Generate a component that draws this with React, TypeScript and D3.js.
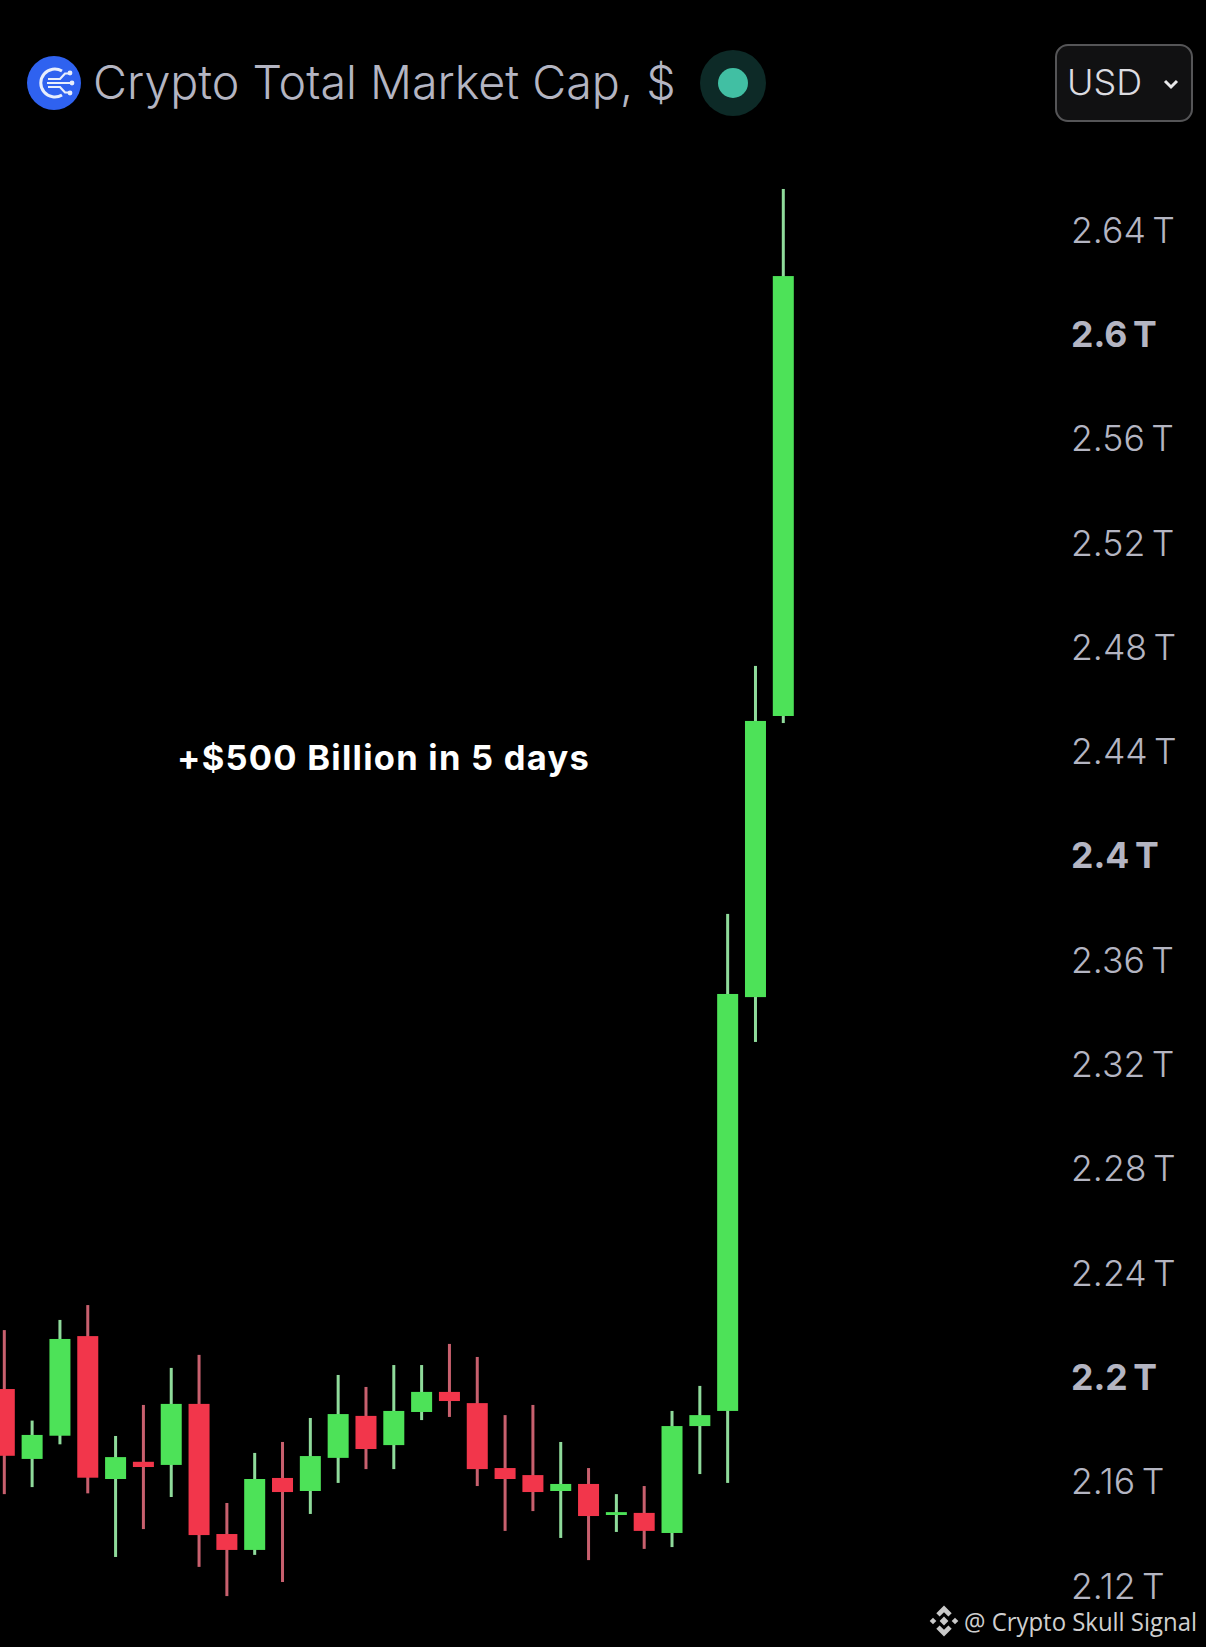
import { useEffect, useRef } from "react";
import * as d3 from "d3";

// candle values in trillions of USD, oldest first
const opens = [
  2.1958, 2.169, 2.1779, 2.2161, 2.1613, 2.1679, 2.1667, 2.1901, 2.1402, 2.1341,
  2.1617, 2.1567, 2.1694, 2.1855, 2.1743, 2.187, 2.1947, 2.1904, 2.1655, 2.1628,
  2.1567, 2.1594, 2.1475, 2.1483, 2.1406, 2.1816, 2.1874, 2.3461, 2.4539,
];
const highs = [
  2.2184, 2.1837, 2.2223, 2.228, 2.1778, 2.1897, 2.2039, 2.2089, 2.1521, 2.1713,
  2.1755, 2.1847, 2.2012, 2.1966, 2.205, 2.205, 2.2131, 2.2081, 2.1858, 2.1897,
  2.1755, 2.1655, 2.1555, 2.1586, 2.1874, 2.197, 2.378, 2.4731, 2.656,
];
const lows = [
  2.1555, 2.1582, 2.1746, 2.1558, 2.1314, 2.1421, 2.1544, 2.1276, 2.1164, 2.1322,
  2.1218, 2.1479, 2.1598, 2.1651, 2.1651, 2.1839, 2.1851, 2.1586, 2.1414, 2.149,
  2.1387, 2.1302, 2.141, 2.1345, 2.1352, 2.1632, 2.1598, 2.3289, 2.4512,
];
const closes = [
  2.1702, 2.1782, 2.215, 2.1618, 2.1697, 2.1659, 2.1901, 2.1398, 2.1341, 2.1613,
  2.1563, 2.1701, 2.1862, 2.1728, 2.1874, 2.1947, 2.1912, 2.1651, 2.1613, 2.1563,
  2.1594, 2.1471, 2.1486, 2.1414, 2.1816, 2.1858, 2.3473, 2.452, 2.6226,
];

const tickValues = [
  2.12, 2.16, 2.2, 2.24, 2.28, 2.32, 2.36, 2.4, 2.44, 2.48, 2.52, 2.56, 2.6, 2.64,
];
const boldTicks = [2.2, 2.4, 2.6];

const titleText = "Crypto Total Market Cap, $";
const noteText = "+$500 Billion in 5 days";
const creditText = "@ Crypto Skull Signal";

const App = () => {
  const chartRef = useRef<SVGSVGElement | null>(null);

  useEffect(() => {
    const width = 1206;
    const height = 1647;
    const bodyWidth = 21;
    const wickWidth = 3;

    const svg = d3.select(chartRef.current);
    svg.selectAll("*").remove();
    svg.attr("width", width).attr("height", height);

    svg.append("rect").attr("width", width).attr("height", height).attr("fill", "#000");

    const days = d3.range(opens.length);
    const x = d3.scalePoint<number>().domain(days).range([4.3, 783.3]);
    const y = d3.scaleLinear().domain([2.12, 2.64]).range([1586.7, 230.7]);

    // price axis on the right, labels left aligned
    const axis = d3
      .axisRight(y)
      .tickValues(tickValues)
      .tickSize(0)
      .tickPadding(0)
      .tickFormat((d) => `${d}\u2009T`);

    const axisG = svg.append("g").attr("transform", "translate(1071,0)").call(axis);
    axisG.select(".domain").remove();
    axisG
      .selectAll<SVGTextElement, number>("text")
      .attr("fill", "#b4b5c2")
      .style("font-family", "Inter")
      .style("font-size", "35.6px")
      .style("font-weight", (d) => (boldTicks.includes(d) ? 700 : 300));

    // wicks first, bodies on top
    const candles = svg.append("g");
    candles
      .selectAll("rect.wick")
      .data(days)
      .join("rect")
      .attr("class", "wick")
      .attr("x", (d) => x(d)! - wickWidth / 2)
      .attr("width", wickWidth)
      .attr("y", (d) => y(highs[d]))
      .attr("height", (d) => y(lows[d]) - y(highs[d]))
      .attr("fill", (d) => (closes[d] >= opens[d] ? "#8fdb9b" : "#c8606e"));

    candles
      .selectAll("rect.body")
      .data(days)
      .join("rect")
      .attr("class", "body")
      .attr("x", (d) => x(d)! - bodyWidth / 2)
      .attr("width", bodyWidth)
      .attr("y", (d) => y(Math.max(opens[d], closes[d])))
      .attr("height", (d) => Math.abs(y(opens[d]) - y(closes[d])))
      .attr("fill", (d) => (closes[d] >= opens[d] ? "#4de258" : "#f2364b"));

    // header
    const icon = svg.append("g").attr("transform", "translate(54,83)");
    icon.append("circle").attr("r", 27).attr("fill", "#2f62f0");
    icon
      .append("path")
      .attr("d", "M8 -12 A14 14 0 1 0 8 12")
      .attr("fill", "none")
      .attr("stroke", "#e8eefc")
      .attr("stroke-width", 3);
    icon
      .append("path")
      .attr("d", "M-6 -4 H6 L11 -9.5 H15 M-6 4 H6 L11 9.5 H15 M-7 0 H17")
      .attr("fill", "none")
      .attr("stroke", "#e8eefc")
      .attr("stroke-width", 2.2);
    icon.append("circle").attr("cx", 16).attr("cy", -10).attr("r", 2.4).attr("fill", "#e8eefc");
    icon.append("circle").attr("cx", 16).attr("cy", 10).attr("r", 2.4).attr("fill", "#e8eefc");
    icon.append("circle").attr("cx", 18).attr("cy", 0).attr("r", 2.4).attr("fill", "#e8eefc");

    svg
      .append("text")
      .attr("x", 93)
      .attr("y", 99)
      .attr("fill", "#b4b5c2")
      .style("font-family", "Inter")
      .style("font-size", "46.6px")
      .style("font-weight", 300)
      .text(titleText);

    svg.append("circle").attr("cx", 733).attr("cy", 83).attr("r", 33).attr("fill", "#0d2a27");
    svg.append("circle").attr("cx", 733).attr("cy", 83).attr("r", 15).attr("fill", "#41bfa3");

    // currency button
    svg
      .append("rect")
      .attr("x", 1056)
      .attr("y", 45)
      .attr("width", 136)
      .attr("height", 76)
      .attr("rx", 12)
      .attr("fill", "#111112")
      .attr("stroke", "#555557")
      .attr("stroke-width", 2);
    svg
      .append("text")
      .attr("x", 1067)
      .attr("y", 95)
      .attr("fill", "#dcdce0")
      .style("font-family", "Inter")
      .style("font-size", "36px")
      .style("font-weight", 300)
      .text("USD");
    svg
      .append("path")
      .attr("d", "M1165 81 L1171 87 L1177 81")
      .attr("fill", "none")
      .attr("stroke", "#e8e8ea")
      .attr("stroke-width", 3);

    // note in the middle of the chart
    svg
      .append("text")
      .attr("x", 177)
      .attr("y", 770)
      .attr("fill", "#fff")
      .style("font-family", "Inter")
      .style("font-size", "34.5px")
      .style("font-weight", 700)
      .style("letter-spacing", "1.25px")
      .text(noteText);

    // watermark
    const mark = svg
      .append("g")
      .attr("transform", "translate(944,1621) scale(1.1)")
      .attr("fill", "#c9c9c9");
    mark.append("path").attr("d", "M0 -14 L7 -7 L4 -4 L0 -8 L-4 -4 L-7 -7 Z");
    mark.append("path").attr("d", "M0 14 L7 7 L4 4 L0 8 L-4 4 L-7 7 Z");
    mark.append("path").attr("d", "M0 -4 L4 0 L0 4 L-4 0 Z");
    mark.append("path").attr("d", "M-10 -3 L-7 0 L-10 3 L-13 0 Z");
    mark.append("path").attr("d", "M10 -3 L13 0 L10 3 L7 0 Z");

    svg
      .append("text")
      .attr("x", 964)
      .attr("y", 1631)
      .attr("fill", "#cfcfcf")
      .attr("textLength", 233)
      .attr("lengthAdjust", "spacingAndGlyphs")
      .style("font-family", "Open Sans")
      .style("font-size", "26px")
      .text(creditText);
  }, []);

  return <svg ref={chartRef} style={{ position: "absolute", left: 0, top: 0, display: "block" }} />;
};

export default App;
